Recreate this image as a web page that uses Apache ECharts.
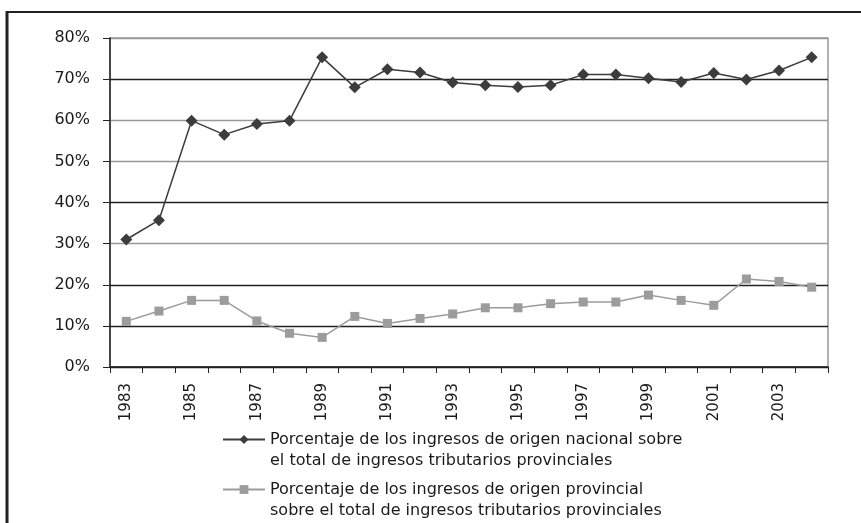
<!DOCTYPE html>
<html>
<head>
<meta charset="utf-8">
<script src="https://cdn.jsdelivr.net/npm/echarts@6/dist/echarts.min.js"></script>
<style>
html,body{margin:0;padding:0;background:#fff;}
#c{width:861px;height:523px;}
</style>
</head>
<body>
<div id="c"></div>
<script>
var years = ['1983','1984','1985','1986','1987','1988','1989','1990','1991','1992','1993','1994','1995','1996','1997','1998','1999','2000','2001','2002','2003','2004'];
var nacional = [31.0,35.7,59.9,56.5,59.1,59.9,75.3,68.0,72.4,71.6,69.2,68.5,68.1,68.5,71.1,71.1,70.2,69.3,71.5,69.9,72.1,75.3];
var provincial = [11.1,13.6,16.2,16.2,11.2,8.2,7.2,12.3,10.6,11.8,12.9,14.4,14.4,15.4,15.8,15.8,17.5,16.2,15.0,21.4,20.8,19.4];
var nameNacional = 'Porcentaje de los ingresos de origen nacional sobre\nel total de ingresos tributarios provinciales';
var nameProvincial = 'Porcentaje de los ingresos de origen provincial\nsobre el total de ingresos tributarios provinciales';
var yTicks = [0,10,20,30,40,50,60,70,80];

var FONT = '"DejaVu Sans", Arial, sans-serif';
function legendFor(name, top){
  return {
    orient:'vertical',left:222,top:top,padding:0,itemWidth:42,itemHeight:11,
    textStyle:{fontFamily:FONT,fontSize:16,color:'#1a1a1a',lineHeight:21},
    formatter:function(n){return ' \n'+n;},
    data:[name]
  };
}
var chart = echarts.init(document.getElementById('c'), null, {renderer:'canvas'});
chart.setOption({
  animation:false,
  backgroundColor:'#fff',
  grid:{left:110,right:33,top:38,bottom:156,show:true,borderColor:'#999',borderWidth:1.5,backgroundColor:'transparent'},
  legend:[legendFor(nameNacional,408),legendFor(nameProvincial,458)],
  xAxis:{
    type:'category',data:years,boundaryGap:true,
    axisLine:{lineStyle:{color:'#222',width:1.5}},
    axisTick:{show:true,interval:0,length:6,lineStyle:{color:'#222'}},
    axisLabel:{interval:1,rotate:90,margin:16,fontFamily:FONT,fontSize:15,color:'#1a1a1a'},
    splitLine:{show:false}
  },
  yAxis:{
    type:'value',min:0,max:80,interval:10,
    axisLine:{show:true,lineStyle:{color:'#222',width:1.5}},
    axisTick:{show:true,length:7,lineStyle:{color:'#222'}},
    axisLabel:{margin:20,fontFamily:FONT,fontSize:16,color:'#1a1a1a',formatter:function(v){return v+'%';}},
    splitLine:{show:true,lineStyle:{width:1.3,color:['#222','#222','#222','#999','#222','#999','#999','#222','#999']}}
  },
  series:[
    {name:nameNacional,type:'line',data:nacional,symbol:'diamond',symbolSize:12,
     itemStyle:{color:'#3c3c3c'},lineStyle:{color:'#3c3c3c',width:1.5},z:3},
    {name:nameProvincial,type:'line',data:provincial,symbol:'rect',symbolSize:9,
     itemStyle:{color:'#9c9c9c'},lineStyle:{color:'#9c9c9c',width:1.5},z:2}
  ],
  graphic:[
    {type:'line',shape:{x1:7,y1:11,x2:7,y2:523},style:{stroke:'#222',lineWidth:3}},
    {type:'line',shape:{x1:6,y1:12,x2:861,y2:12},style:{stroke:'#222',lineWidth:2}}
  ]
});
</script>
</body>
</html>
